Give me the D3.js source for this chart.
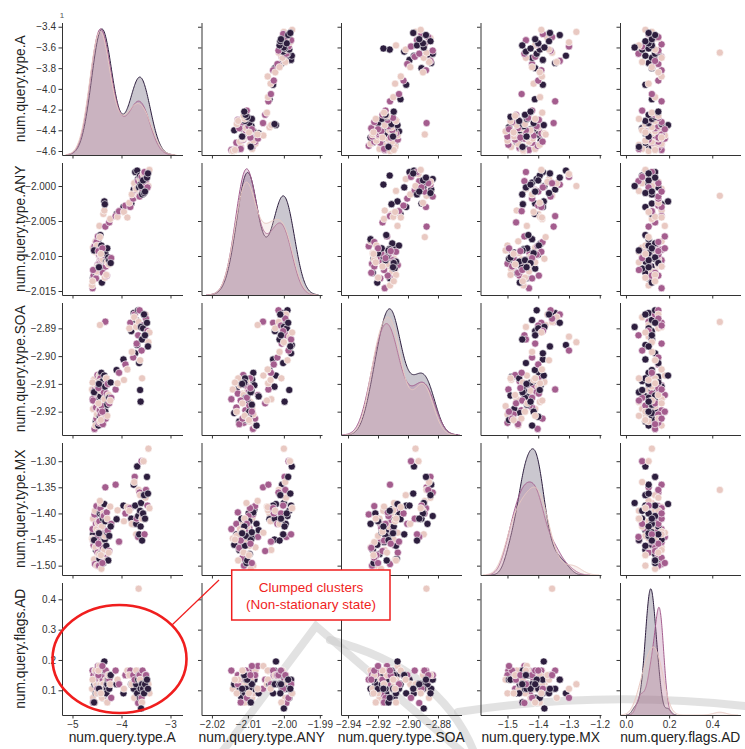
<!DOCTYPE html>
<html>
<head>
<meta charset="utf-8">
<script src="https://cdn.jsdelivr.net/npm/d3@7"></script>
<style>
  body { margin: 0; background: #fff; }
  text { font-family: "Liberation Sans", Arial, sans-serif; }
</style>
</head>
<body>
<div id="area"></div>
<script>
const variables = [
  "num.query.type.A",
  "num.query.type.ANY",
  "num.query.type.SOA",
  "num.query.type.MX",
  "num.query.flags.AD",
];

// hue levels: dark, mauve, light
const hueColors = ["#2d1e3e", "#a45d8e", "#e9c9c2"];

// rows: [A, ANY, SOA, MX, AD]
const darkRows = [
  [-4.58, -2.0132, -2.912, -1.44, 0.105],
  [-4.55, -2.0088, -2.9085, -1.405, 0.12],
  [-4.52, -2.0124, -2.9235, -1.47, 0.09],
  [-4.5, -2.0082, -2.9105, -1.392, 0.135],
  [-4.48, -2.0115, -2.916, -1.455, 0.12],
  [-4.47, -2.0076, -2.925, -1.42, 0.105],
  [-4.45, -2.0112, -2.9075, -1.487, 0.15],
  [-4.44, -2.0098, -2.9218, -1.4, 0.12],
  [-4.43, -2.007, -2.9145, -1.432, 0.09],
  [-4.42, -2.0095, -2.919, -1.478, 0.135],
  [-4.41, -2.0085, -2.906, -1.398, 0.105],
  [-4.4, -2.0138, -2.9205, -1.46, 0.12],
  [-4.39, -2.0101, -2.9165, -1.425, 0.15],
  [-4.38, -2.0118, -2.909, -1.41, 0.075],
  [-4.37, -2.0104, -2.923, -1.495, 0.135],
  [-4.36, -2.009, -2.9125, -1.447, 0.12],
  [-4.35, -2.0022, -2.907, -1.382, 0.195],
  [-4.34, -2.0026, -2.911, -1.45, 0.165],
  [-4.33, -2.0096, -2.92, -1.415, 0.105],
  [-4.31, -2.0108, -2.908, -1.462, 0.09],
  [-4.29, -2.0089, -2.9175, -1.436, 0.12],
  [-4.27, -2.0102, -2.9142, -1.49, 0.135],
  [-4.25, -2.0106, -2.915, -1.443, 0.105],
  [-4.22, -2.011, -2.9095, -1.425, 0.15],
  [-4.56, -2.0092, -2.913, -1.451, 0.06],
  [-4.46, -2.0116, -2.91, -1.438, 0.105],
  [-4.1, -2.004, -2.905, -1.411, 0.12],
  [-3.96, -2.003, -2.9012, -1.385, 0.09],
  [-3.8, -2.0025, -2.891, -1.41, 0.12],
  [-3.75, -2.0005, -2.8845, -1.345, 0.105],
  [-3.72, -1.998, -2.899, -1.385, 0.135],
  [-3.7, -1.9995, -2.887, -1.42, 0.12],
  [-3.68, -1.9978, -2.896, -1.31, 0.09],
  [-3.66, -1.999, -2.8835, -1.405, 0.135],
  [-3.64, -2.0002, -2.9025, -1.44, 0.15],
  [-3.62, -1.9985, -2.9122, -1.395, 0.075],
  [-3.61, -1.9998, -2.9164, -1.425, 0.105],
  [-3.6, -2.0, -2.8895, -1.38, 0.04],
  [-3.58, -2.0012, -2.894, -1.452, 0.12],
  [-3.56, -1.9992, -2.89, -1.4, 0.105],
  [-3.54, -2.001, -2.885, -1.365, 0.09],
  [-3.52, -2.0008, -2.8925, -1.41, 0.12],
  [-3.48, -1.9988, -2.888, -1.33, 0.135],
  [-3.46, -1.9982, -2.8965, -1.362, 0.105],
];

const mauveRows = [
  [-4.59, -2.0146, -2.9155, -1.43, 0.165],
  [-4.57, -2.0128, -2.909, -1.461, 0.15],
  [-4.55, -2.0086, -2.9262, -1.402, 0.135],
  [-4.54, -2.0091, -2.912, -1.497, 0.165],
  [-4.52, -2.0132, -2.9185, -1.42, 0.12],
  [-4.51, -2.008, -2.9225, -1.386, 0.15],
  [-4.49, -2.0113, -2.9068, -1.475, 0.105],
  [-4.48, -2.0072, -2.914, -1.445, 0.18],
  [-4.46, -2.0111, -2.924, -1.5, 0.15],
  [-4.45, -2.0099, -2.911, -1.415, 0.135],
  [-4.44, -2.0107, -2.9195, -1.455, 0.165],
  [-4.43, -2.0094, -2.908, -1.39, 0.12],
  [-4.42, -2.0103, -2.921, -1.48, 0.15],
  [-4.41, -2.0096, -2.9178, -1.428, 0.09],
  [-4.4, -2.0106, -2.9105, -1.44, 0.165],
  [-4.38, -2.0124, -2.9245, -1.466, 0.135],
  [-4.36, -2.0098, -2.913, -1.405, 0.15],
  [-4.33, -2.0058, -2.8876, -1.35, 0.105],
  [-4.32, -2.0115, -2.9225, -1.485, 0.165],
  [-4.3, -2.0128, -2.9135, -1.398, 0.12],
  [-4.28, -2.0109, -2.91, -1.433, 0.15],
  [-4.25, -2.0052, -2.917, -1.472, 0.135],
  [-4.21, -2.0103, -2.915, -1.42, 0.075],
  [-4.58, -2.012, -2.916, -1.452, 0.06],
  [-4.47, -2.0093, -2.9115, -1.458, 0.15],
  [-4.39, -2.0089, -2.92, -1.495, 0.18],
  [-4.12, -2.0043, -2.912, -1.345, 0.165],
  [-4.05, -2.0036, -2.906, -1.454, 0.12],
  [-3.92, -2.0028, -2.903, -1.4, 0.15],
  [-3.82, -2.003, -2.888, -1.39, 0.165],
  [-3.76, -2.0018, -2.9005, -1.42, 0.15],
  [-3.73, -1.9998, -2.885, -1.33, 0.135],
  [-3.69, -2.0006, -2.8955, -1.41, 0.165],
  [-3.66, -1.9993, -2.8925, -1.445, 0.058],
  [-3.63, -2.0015, -2.8835, -1.36, 0.15],
  [-3.59, -1.9987, -2.898, -1.3, 0.075],
  [-3.57, -2.0008, -2.889, -1.4, 0.165],
  [-3.53, -1.998, -2.894, -1.44, 0.12],
  [-3.5, -1.9996, -2.8865, -1.355, 0.15],
  [-3.47, -2.0002, -2.891, -1.385, 0.105],
];

const lightRows = [
  [-4.6, -2.0142, -2.912, -1.448, 0.105],
  [-4.58, -2.0088, -2.919, -1.41, 0.075],
  [-4.56, -2.0119, -2.9085, -1.488, 0.135],
  [-4.54, -2.0094, -2.9165, -1.395, 0.06],
  [-4.53, -2.0079, -2.925, -1.465, 0.165],
  [-4.51, -2.0122, -2.9105, -1.43, 0.12],
  [-4.5, -2.0085, -2.921, -1.5, 0.09],
  [-4.48, -2.0114, -2.9135, -1.418, 0.15],
  [-4.46, -2.01, -2.9195, -1.478, 0.135],
  [-4.45, -2.0057, -2.907, -1.437, 0.18],
  [-4.44, -2.0096, -2.9235, -1.462, 0.105],
  [-4.43, -2.0104, -2.9093, -1.38, 0.12],
  [-4.41, -2.0092, -2.918, -1.506, 0.135],
  [-4.4, -2.0101, -2.9125, -1.425, 0.075],
  [-4.38, -2.0105, -2.9225, -1.455, 0.15],
  [-4.37, -2.004, -2.911, -1.4, 0.12],
  [-4.35, -2.0035, -2.9155, -1.47, 0.165],
  [-4.34, -2.0131, -2.92, -1.443, 0.09],
  [-4.44, -2.0073, -2.8888, -1.376, 0.105],
  [-4.31, -2.0127, -2.908, -1.49, 0.135],
  [-4.29, -2.0109, -2.9215, -1.41, 0.06],
  [-4.26, -2.0112, -2.914, -1.475, 0.15],
  [-4.23, -2.0047, -2.916, -1.387, 0.12],
  [-4.59, -2.0136, -2.9095, -1.45, 0.135],
  [-4.47, -2.0115, -2.917, -1.435, 0.165],
  [-4.42, -2.0097, -2.923, -1.48, 0.09],
  [-4.08, -2.0044, -2.9098, -1.394, 0.135],
  [-3.95, -2.0037, -2.9086, -1.415, 0.105],
  [-3.88, -2.0045, -2.9048, -1.388, 0.165],
  [-3.84, -2.0024, -2.89, -1.395, 0.15],
  [-3.79, -2.0012, -2.8985, -1.42, 0.12],
  [-3.74, -1.9996, -2.886, -1.34, 0.075],
  [-3.7, -2.0004, -2.8895, -1.44, 0.165],
  [-3.65, -2.0014, -2.8877, -1.355, 0.435],
  [-3.62, -1.999, -2.9015, -1.365, 0.135],
  [-3.58, -2.0007, -2.908, -1.41, 0.06],
  [-3.55, -1.9983, -2.893, -1.3, 0.105],
  [-3.51, -1.9994, -2.885, -1.37, 0.15],
  [-3.45, -2.0, -2.895, -1.276, 0.12],
  [-3.43, -1.9977, -2.8915, -1.39, 0.09],
];

// axis extents
const xDomains = [
  [-5.214, -2.755],
  [-2.0229, -1.9894],
  [-2.9447, -2.8643],
  [-1.5877, -1.196],
  [-0.0277, 0.5308],
];
const yDomains = [
  [-4.6386, -3.359],
  [-2.01557, -1.99664],
  [-2.9284, -2.8807],
  [-1.5179, -1.2642],
  [0.0185, 0.4555],
];

const xTicks = [
  [-5, -4, -3],
  [-2.02, -2.01, -2.0, -1.99],
  [-2.94, -2.92, -2.9, -2.88],
  [-1.5, -1.4, -1.3, -1.2],
  [0.0, 0.2, 0.4],
];
const yTicks = [
  [-3.4, -3.6, -3.8, -4.0, -4.2, -4.4, -4.6],
  [-2.0, -2.005, -2.01, -2.015],
  [-2.89, -2.9, -2.91, -2.92],
  [-1.3, -1.35, -1.4, -1.45, -1.5],
  [0.1, 0.2, 0.3, 0.4],
];
const xFormats = ["d", ".2f", ".2f", ".1f", ".1f"];
const yFormats = [".1f", ".3f", ".2f", ".2f", ".1f"];

const width = 745;
const height = 749;
const left0 = 62;
const top0 = 22.5;
const colStep = 139.5;
const rowStep = 140;
const cellW = 120.5;
const cellH = 132.5;
const axisColor = "#333";

const svg = d3
  .select("#area")
  .append("svg")
  .attr("width", width)
  .attr("height", height);

const xScales = xDomains.map((d, i) =>
  d3.scaleLinear().domain(d).range([left0 + i * colStep, left0 + i * colStep + cellW])
);
const yScales = yDomains.map((d, j) =>
  d3.scaleLinear().domain(d).range([top0 + j * rowStep + cellH, top0 + j * rowStep])
);

// interleave the hue groups so no colour sits fully on top
const groups = [darkRows, mauveRows, lightRows];
const points = [];
const maxLen = d3.max(groups, (g) => g.length);
for (let i = 0; i < maxLen; i++) {
  groups.forEach((g, h) => {
    if (i < g.length) points.push({ v: g[i], h });
  });
}
const N = points.length;

// gaussian kde, scott bandwidth, scaled by group share (common_norm)
function kdeCurve(vals, xDom) {
  const n = vals.length;
  const bw = d3.deviation(vals) * Math.pow(n, -0.2);
  const lo = Math.max(d3.min(vals) - 3 * bw, xDom[0]);
  const hi = Math.min(d3.max(vals) + 3 * bw, xDom[1]);
  const norm = (n / N) / (n * bw * Math.sqrt(2 * Math.PI));
  return d3.range(241).map((i) => {
    const x = lo + ((hi - lo) * i) / 240;
    return [x, norm * d3.sum(vals, (v) => Math.exp(-0.5 * ((x - v) / bw) ** 2))];
  });
}

function styleAxis(g) {
  g.select(".domain").attr("stroke", axisColor).attr("stroke-width", 1);
  g.selectAll(".tick line").attr("stroke", axisColor);
  g.selectAll(".tick text")
    .attr("fill", "#333")
    .attr("font-size", 10)
    .attr("font-family", '"Liberation Sans", Arial, sans-serif');
}

// faint watermark from the page, under the plots
const mark = svg
  .append("g")
  .attr("fill", "none")
  .attr("stroke", "#cfcfcf")
  .attr("stroke-opacity", 0.6)
  .attr("stroke-width", 8)
  .attr("stroke-linecap", "round");
mark.append("path").attr("d", "M222,752 L316,626 L462,752");
mark.append("path").attr("d", "M330,640 Q440,668 474,752");
mark.append("path").attr("d", "M458,712 Q600,690 745,706");

for (let r = 0; r < 5; r++) {
  for (let c = 0; c < 5; c++) {
    const x = xScales[c];
    const y = yScales[r];
    const cell = svg.append("g");

    if (r === c) {
      const curves = groups.map((g) => kdeCurve(g.map((d) => d[c]), xDomains[c]));
      const maxD = d3.max(curves, (cv) => d3.max(cv, (p) => p[1]));
      const yd = d3
        .scaleLinear()
        .domain([0, maxD * 1.05])
        .range([top0 + r * rowStep + cellH, top0 + r * rowStep]);
      const area = d3
        .area()
        .x((p) => x(p[0]))
        .y0(yd(0))
        .y1((p) => yd(p[1]));
      const line = d3
        .line()
        .x((p) => x(p[0]))
        .y((p) => yd(p[1]));
      curves.forEach((cv, h) => {
        cell.append("path").attr("d", area(cv)).attr("fill", hueColors[h]).attr("fill-opacity", 0.25);
        cell.append("path").attr("d", line(cv)).attr("fill", "none").attr("stroke", hueColors[h]).attr("stroke-width", 1);
      });
    } else {
      cell
        .selectAll("circle")
        .data(points)
        .join("circle")
        .attr("cx", (d) => x(d.v[c]))
        .attr("cy", (d) => y(d.v[r]))
        .attr("r", 3.6)
        .attr("fill", (d) => hueColors[d.h])
        .attr("stroke", "#fff")
        .attr("stroke-width", 0.6);
    }

    // bottom axis
    cell
      .append("g")
      .attr("transform", `translate(0, ${top0 + r * rowStep + cellH})`)
      .call(
        d3
          .axisBottom(x)
          .tickValues(xTicks[c])
          .tickSize(3.5)
          .tickSizeOuter(0)
          .tickPadding(2.5)
          .tickFormat(r === 4 ? d3.format(xFormats[c]) : "")
      )
      .call(styleAxis);

    // left axis
    cell
      .append("g")
      .attr("transform", `translate(${left0 + c * colStep}, 0)`)
      .call(
        d3
          .axisLeft(y)
          .tickValues(yTicks[r])
          .tickSize(3.5)
          .tickSizeOuter(0)
          .tickPadding(2.5)
          .tickFormat(c === 0 ? d3.format(yFormats[r]) : "")
      )
      .call(styleAxis);
  }
}

// axis titles
variables.forEach((name, i) => {
  svg
    .append("text")
    .attr("x", left0 + i * colStep + cellW / 2)
    .attr("y", 742)
    .attr("text-anchor", "middle")
    .attr("font-size", 13.8)
    .attr("fill", "#222")
    .text(name);
  svg
    .append("text")
    .attr("transform", `translate(25, ${top0 + i * rowStep + cellH / 2}) rotate(-90)`)
    .attr("text-anchor", "middle")
    .attr("font-size", 13.8)
    .attr("fill", "#222")
    .text(name);
});

svg
  .append("text")
  .attr("x", 62)
  .attr("y", 18)
  .attr("text-anchor", "middle")
  .attr("font-size", 8)
  .attr("fill", "#555")
  .text("1");

// annotation
svg
  .append("ellipse")
  .attr("cx", 119.5)
  .attr("cy", 659)
  .attr("rx", 67)
  .attr("ry", 54)
  .attr("fill", "none")
  .attr("stroke", "#f01e1e")
  .attr("stroke-width", 2.6);

svg
  .append("line")
  .attr("x1", 172)
  .attr("y1", 625)
  .attr("x2", 219)
  .attr("y2", 580)
  .attr("stroke", "#f01e1e")
  .attr("stroke-width", 1.2);

svg
  .append("rect")
  .attr("x", 231.7)
  .attr("y", 570)
  .attr("width", 158.3)
  .attr("height", 50)
  .attr("fill", "#fff")
  .attr("stroke", "#f01e1e")
  .attr("stroke-width", 1.5);

["Clumped clusters", "(Non-stationary state)"].forEach((t, i) => {
  svg
    .append("text")
    .attr("x", 311)
    .attr("y", 592 + i * 17)
    .attr("text-anchor", "middle")
    .attr("font-size", 13.5)
    .attr("fill", "#f01e1e")
    .text(t);
});
</script>
</body>
</html>
